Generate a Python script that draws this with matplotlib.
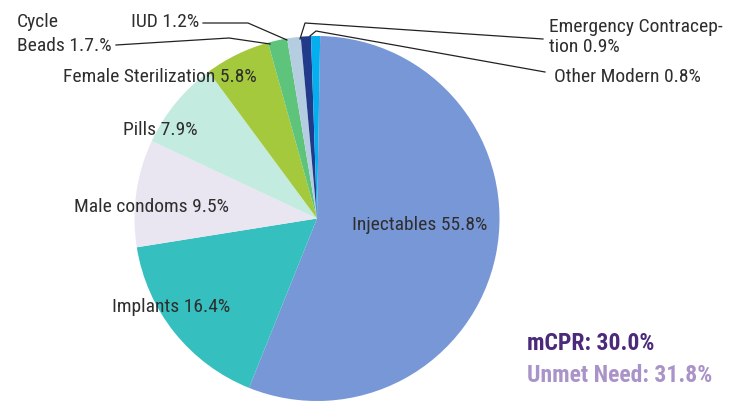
import matplotlib.pyplot as plt

plt.rcParams['font.family'] = ['Roboto Condensed', 'DejaVu Sans']

# Method mix data
methods = ['Injectables', 'Implants', 'Male condoms', 'Pills', 'Female Sterilization',
           'Cycle Beads', 'IUD', 'Emergency Contraception', 'Other Modern']
shares = [55.8, 16.4, 9.5, 7.9, 5.8, 1.7, 1.2, 0.9, 0.8]
colors = ['#7897d7', '#35bfbf', '#e9e5f1', '#c4ebdf', '#a5c93d',
          '#5ec47b', '#b5cde0', '#213a8a', '#04aeef']
mcpr = 30.0
unmet = 31.8

W, H = 733, 401
fig = plt.figure(figsize=(W / 100, H / 100), dpi=100)
ax = fig.add_axes([0, 0, 1, 1])


def py(y):
    # pixel row (from top) to data y
    return H - y


ax.pie(shares, colors=colors, startangle=89, counterclock=False,
       center=(317, py(218.5)), radius=182.5, frame=True,
       wedgeprops=dict(linewidth=0))
ax.set_xlim(0, W)
ax.set_ylim(0, H)
ax.set_aspect('equal')
ax.axis('off')

txt = '#2e2e2e'
fs = 14

# labels inside / next to the wedges
ax.text(420, py(225), f'{methods[0]} {shares[0]}%', ha='center', va='center', fontsize=fs, color=txt)
ax.text(171, py(307), f'{methods[1]} {shares[1]}%', ha='center', va='center', fontsize=fs, color=txt)
ax.text(152, py(207), f'{methods[2]} {shares[2]}%', ha='center', va='center', fontsize=fs, color=txt)
ax.text(160, py(130), f'{methods[3]} {shares[3]}%', ha='center', va='center', fontsize=fs, color=txt)
ax.text(160, py(77), f'{methods[4]} {shares[4]}%', ha='center', va='center', fontsize=fs, color=txt)
ax.text(17, py(34), f'Cycle\nBeads {shares[5]}.%', ha='left', va='center', fontsize=fs,
        color=txt, linespacing=1.45)
ax.text(199, py(22), f'{methods[6]} {shares[6]}%', ha='right', va='center', fontsize=fs, color=txt)
ax.text(549, py(37), f'Emergency Contracep-\ntion {shares[7]}%', ha='left', va='center',
        fontsize=fs, color=txt, linespacing=1.15)
ax.text(554, py(77), f'{methods[8]} {shares[8]}%', ha='left', va='center', fontsize=fs, color=txt)

# leader lines
leaders = [
    [(116, 45), (229, 38), (270, 44)],
    [(203, 23), (248, 23), (287, 40)],
    [(300, 39), (305, 23), (543, 39)],
    [(310, 36), (316, 31), (545, 72)],
]
for pts in leaders:
    ax.plot([p[0] for p in pts], [py(p[1]) for p in pts], color='#222222', lw=0.9,
            solid_joinstyle='miter')

ax.text(527, py(343), f'mCPR: {mcpr:.1f}%', ha='left', va='center', fontsize=17,
        fontweight='bold', color='#4b2a7b')
ax.text(527, py(376), f'Unmet Need: {unmet:.1f}%', ha='left', va='center', fontsize=17,
        fontweight='bold', color='#a993c8')

fig.savefig('out.png', dpi=100)
